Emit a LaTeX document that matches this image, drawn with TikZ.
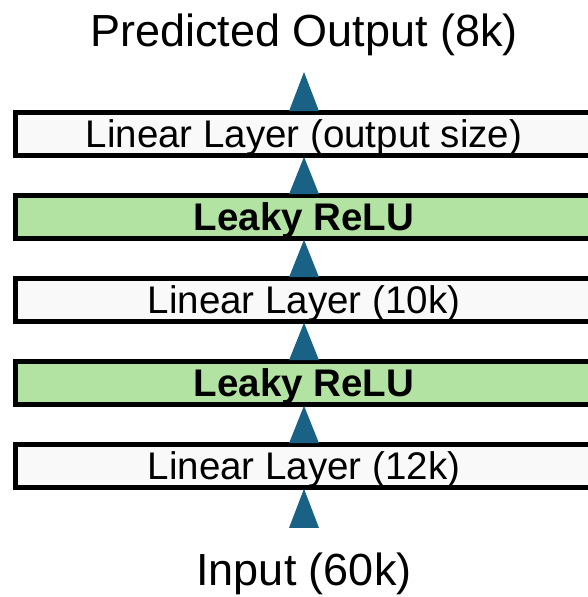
\documentclass[tikz,border=0pt]{standalone}
\usepackage{fontspec}
\setmainfont{Liberation Sans}
\usetikzlibrary{calc}
\definecolor{tri}{RGB}{25,97,133}
\definecolor{relu}{RGB}{179,227,162}
\definecolor{lin}{RGB}{249,249,249}
\begin{document}
\begin{tikzpicture}[x=1pt,y=1pt,
  layer/.style={draw=black,line width=4.5pt,minimum width=577pt,minimum height=43pt,
    inner sep=0pt,text height=27.6pt,text depth=0pt,
    font=\fontsize{38.5}{40}\selectfont},
  linbox/.style={layer,fill=lin},
  relubox/.style={layer,fill=relu,font=\fontsize{38.5}{40}\selectfont\bfseries},
  label/.style={anchor=base,inner sep=0pt,font=\fontsize{45}{50}\selectfont},
  tri/.style={fill=tri}]
\useasboundingbox (0,0) rectangle (587,597);
\node[linbox]  (b1) at (304,463) {Linear Layer (output size)};
\node[relubox] (b2) at (304,380) {Leaky ReLU};
\node[linbox]  (b3) at (304,297) {Linear Layer (10k)};
\node[relubox] (b4) at (304,214) {Leaky ReLU};
\node[linbox]  (b5) at (304,131) {Linear Layer (12k)};
\node[label] (out) at (304,550) {Predicted Output (8k)};
\node[label] (in) at (304,12) {Input (60k)};
\coordinate (outtip) at (304,525);
\coordinate (inbase) at (304,69);
% arrows (triangles)
\fill[tri] (outtip) -- ($(b1.north)+(15,-1)$) -- ($(b1.north)+(-15,-1)$) -- cycle;
\foreach \a/\b in {b1/b2,b2/b3,b3/b4,b4/b5}{
  \fill[tri] ($(\a.south)+(0,1)$) -- ($(\b.north)+(15,-1)$) -- ($(\b.north)+(-15,-1)$) -- cycle;
}
\fill[tri] ($(b5.south)+(0,1)$) -- ($(inbase)+(15,0)$) -- ($(inbase)+(-15,0)$) -- cycle;
\end{tikzpicture}
\end{document}
